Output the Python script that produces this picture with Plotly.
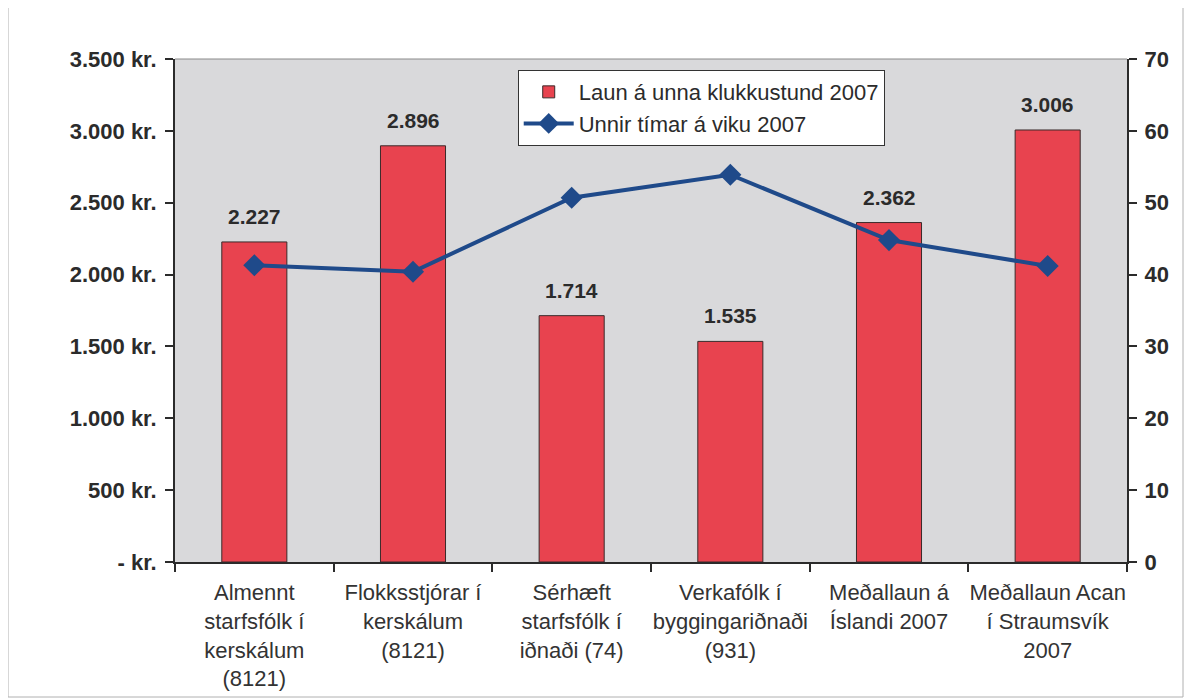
import plotly.graph_objects as go

categories = [
    "Almennt<br>starfsfólk í<br>kerskálum<br>(8121)",
    "Flokksstjórar í<br>kerskálum<br>(8121)",
    "Sérhæft<br>starfsfólk í<br>iðnaði (74)",
    "Verkafólk í<br>byggingariðnaði<br>(931)",
    "Meðallaun á<br>Íslandi 2007",
    "Meðallaun Acan<br>í Straumsvík<br>2007",
]
wage_per_hour = [2227, 2896, 1714, 1535, 2362, 3006]
hours_per_week = [41.3, 40.4, 50.7, 53.9, 44.8, 41.2]

left_tickvals = [0, 500, 1000, 1500, 2000, 2500, 3000, 3500]
left_ticktext = ["- kr.", "500 kr.", "1.000 kr.", "1.500 kr.", "2.000 kr.",
                 "2.500 kr.", "3.000 kr.", "3.500 kr."]
right_tickvals = [0, 10, 20, 30, 40, 50, 60, 70]

bar_name = "Laun á unna klukkustund 2007"
line_name = "Unnir tímar á viku 2007"

FONT = "Liberation Sans, Arial, sans-serif"
TXT = "#2b2b2b"


def fmt(v):
    return f"{v:,}".replace(",", ".")


fig = go.Figure()
fig.add_trace(go.Bar(
    x=categories, y=wage_per_hour, name=bar_name,
    marker=dict(color="#E8434F", line=dict(color="#3a2a2a", width=1)),
    width=0.41, yaxis="y",
))
fig.add_trace(go.Scatter(
    x=categories, y=hours_per_week, name=line_name, yaxis="y2",
    mode="lines+markers",
    line=dict(color="#1F4A8A", width=4),
    marker=dict(symbol="diamond", size=17, color="#1F4A8A"),
))

annotations = [
    dict(x=c, y=v, xref="x", yref="y", text=f"<b>{fmt(v)}</b>", showarrow=False,
         yanchor="bottom", yshift=12, font=dict(family=FONT, size=21, color=TXT))
    for c, v in zip(categories, wage_per_hour)
]

# page body adds an 8px offset; plot area targets x 175..1127, y 59..562 on screen
fig.update_layout(
    width=1194, height=699,
    margin=dict(l=167, r=75, t=51, b=145),
    paper_bgcolor="white", plot_bgcolor="#D9D9DB",
    font=dict(family=FONT, color=TXT),
    showlegend=True,
    legend=dict(
        x=0.36, y=0.978, xanchor="left", yanchor="top",
        bgcolor="white", bordercolor="#333", borderwidth=1,
        font=dict(family=FONT, size=22, color=TXT),
        traceorder="normal", tracegroupgap=0, itemwidth=50,
    ),
    xaxis=dict(
        showline=True, linecolor="#2b2b2b", linewidth=2,
        ticks="outside", ticklen=8, tickwidth=2, tickcolor="#2b2b2b",
        tickson="boundaries", showgrid=False, tickangle=0, automargin=False,
        ticklabelstandoff=10,
        tickfont=dict(family=FONT, size=22, color="#333"),
        mirror=False,
    ),
    yaxis=dict(
        range=[0, 3500], tickvals=left_tickvals, ticktext=left_ticktext,
        showline=True, linecolor="#2b2b2b", linewidth=2, automargin=False,
        ticks="outside", ticklen=8, tickwidth=2, tickcolor="#2b2b2b",
        showgrid=False, zeroline=False, ticklabelstandoff=4,
        tickfont=dict(family=FONT, size=22, color=TXT, weight="bold"),
    ),
    yaxis2=dict(
        range=[0, 70], tickvals=right_tickvals, overlaying="y", side="right",
        showline=True, linecolor="#2b2b2b", linewidth=2, automargin=False,
        ticks="outside", ticklen=8, tickwidth=2, tickcolor="#2b2b2b",
        showgrid=False, zeroline=False, ticklabelstandoff=3,
        tickfont=dict(family=FONT, size=22, color=TXT, weight="bold"),
    ),
    annotations=annotations,
    shapes=[
        dict(type="line", xref="paper", yref="paper", x0=0, x1=1, y0=1, y1=1,
             line=dict(color="#8a8a8a", width=1)),
        dict(type="rect", xref="paper", yref="paper",
             x0=(8 - 175) / 952, x1=(1183 - 175) / 952,
             y0=(562 - 697) / 503, y1=(562 - 4) / 503,
             line=dict(color="#b0b0b0", width=1), layer="below"),
    ],
)

fig.write_html("out.html")
